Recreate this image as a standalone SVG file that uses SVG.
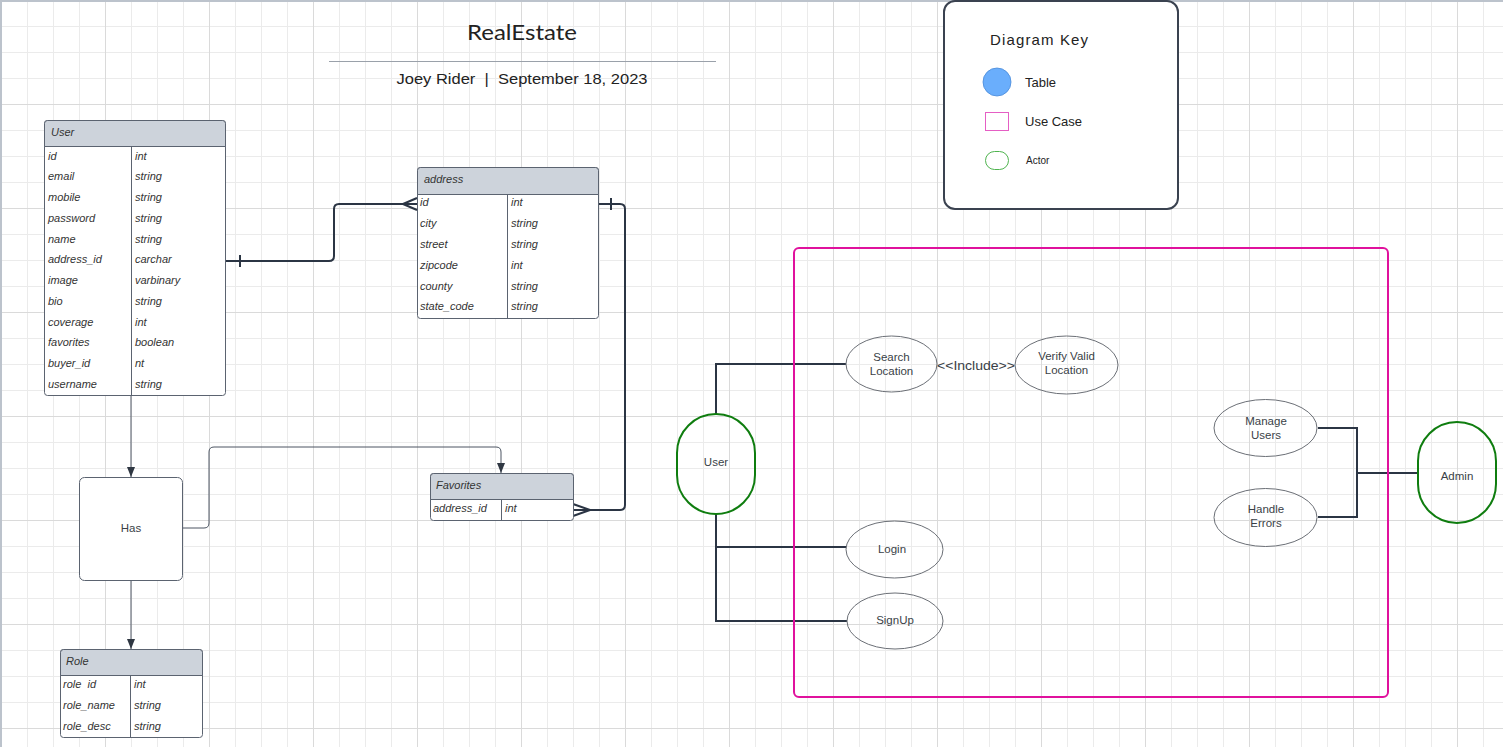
<svg xmlns="http://www.w3.org/2000/svg" width="1503" height="747" viewBox="0 0 1503 747">
<style>
.tbl{fill:#fff;stroke:#5b6370;stroke-width:1}
.hdr{fill:#cdd3db;stroke:#5b6370;stroke-width:1}
.div{stroke:#5b6370;stroke-width:1}
.t{font-family:"Liberation Sans",Arial,sans-serif;font-size:11px;font-style:italic;fill:#333}
.u{font-family:"Liberation Sans",Arial,sans-serif;font-size:11.5px;fill:#3a3f47;text-anchor:middle}
.uc{fill:none;stroke:#6b6f76;stroke-width:1}
.actor{fill:none;stroke:#0f7d0f;stroke-width:2}
.thin{fill:none;stroke:#4c5562;stroke-width:1}
.thick{fill:none;stroke:#2b3544;stroke-width:2}
.key{font-family:"Liberation Sans",Arial,sans-serif;fill:#222}
</style>
<defs>
<pattern id="grid" patternUnits="userSpaceOnUse" x="1" y="0" width="104" height="104">
<rect x="26" y="0" width="1" height="104" fill="#ebebeb"/>
<rect x="52" y="0" width="1" height="104" fill="#ebebeb"/>
<rect x="78" y="0" width="1" height="104" fill="#ebebeb"/>
<rect x="0" y="26" width="104" height="1" fill="#ebebeb"/>
<rect x="0" y="52" width="104" height="1" fill="#ebebeb"/>
<rect x="0" y="78" width="104" height="1" fill="#ebebeb"/>
<rect x="0" y="0" width="1" height="104" fill="#dadada"/>
<rect x="0" y="0" width="104" height="1" fill="#dadada"/>
</pattern>
<marker id="arr" viewBox="0 0 10 8" refX="10" refY="4" markerWidth="10" markerHeight="8" markerUnits="userSpaceOnUse" orient="auto">
<path d="M0,0 L10,4 L0,8 z" fill="#2f3742"/>
</marker>
</defs>
<rect width="1503" height="747" fill="#fff"/>
<rect width="1503" height="747" fill="url(#grid)"/>
<rect x="0" y="0" width="1503" height="2" fill="#bcc3cc"/>
<rect x="0" y="0" width="2" height="747" fill="#bcc3cc"/>

<g id="title">
<text x="522" y="40" font-family="Lato,'Liberation Sans',sans-serif" font-size="22" fill="#222" text-anchor="middle" textLength="110" lengthAdjust="spacingAndGlyphs">RealEstate</text>
<line x1="329" y1="61.5" x2="716" y2="61.5" stroke="#9aa1aa" stroke-width="1"/>
<text x="522" y="84" font-family="'Liberation Sans',sans-serif" font-size="15" fill="#222" text-anchor="middle" textLength="251" lengthAdjust="spacingAndGlyphs" style="white-space:pre">Joey Rider  |  September 18, 2023</text>
</g>

<g id="diagram-key">
<rect x="944" y="1" width="234" height="208" rx="11" fill="#fff" stroke="#3a4250" stroke-width="2"/>
<text class="key" x="990" y="45" font-size="15" textLength="98" lengthAdjust="spacing">Diagram Key</text>
<circle cx="997" cy="82" r="14" fill="#6aaefc" stroke="#4a8ad8" stroke-width="0.8"/>
<text class="key" x="1025" y="87" font-size="13" fill="#333">Table</text>
<rect x="985.5" y="112.5" width="23" height="18" fill="none" stroke="#e55ec4" stroke-width="1"/>
<text class="key" x="1025" y="126" font-size="13" fill="#333">Use Case</text>
<rect x="985.5" y="151.5" width="23" height="18" rx="9" fill="none" stroke="#4fb44f" stroke-width="1"/>
<text class="key" x="1026" y="164" font-size="10" fill="#333">Actor</text>
</g>

<g id="connectors">
<path class="thin" d="M131,396 L131,477" marker-end="url(#arr)"/>
<path class="thin" d="M131,580 L131,649" marker-end="url(#arr)"/>
<path class="thin" d="M183,528 L204,528 Q209,528 209,523 L209,452 Q209,447 214,447 L496,447 Q501,447 501,452 L501,473" marker-end="url(#arr)"/>
<path class="thick" d="M226,261 L329,261 Q334,261 334,256 L334,209 Q334,204 339,204 L417,204"/>
<path class="thick" d="M240,255 L240,267 M403,204 L417,198 M403,204 L417,210"/>
<path class="thick" d="M598,204 L620,204 Q625,204 625,209 L625,505 Q625,510 620,510 L573,510"/>
<path class="thick" d="M611,198 L611,210 M590,510 L573,504 M590,510 L573,516"/>
<path class="thick" d="M716,414 L716,364 L846,364"/>
<path class="thick" d="M716,514 L716,621 L847,621"/>
<path class="thick" d="M716,547 L846,547"/>
<path class="thick" d="M1318,428 L1357,428 L1357,517 L1318,517"/>
<path class="thick" d="M1357,473 L1418,473"/>
<text x="976" y="370" font-family="'Liberation Sans',Arial,sans-serif" font-size="13" fill="#3a3f47" text-anchor="middle" textLength="78" lengthAdjust="spacingAndGlyphs">&lt;&lt;Include&gt;&gt;</text>
</g>

<g id="table-user">
<rect class="tbl" x="44.5" y="120.5" width="181" height="275" rx="3"/>
<path class="hdr" d="M44.5,146.5 L44.5,123.5 Q44.5,120.5 47.5,120.5 L222.5,120.5 Q225.5,120.5 225.5,123.5 L225.5,146.5 Z"/>
<line class="div" x1="131.5" y1="146.5" x2="131.5" y2="395.5"/>
<text class="t" x="51" y="136">User</text>
<text class="t" x="48" y="160">id</text><text class="t" x="135" y="160">int</text>
<text class="t" x="48" y="180">email</text><text class="t" x="135" y="180">string</text>
<text class="t" x="48" y="201">mobile</text><text class="t" x="135" y="201">string</text>
<text class="t" x="48" y="222">password</text><text class="t" x="135" y="222">string</text>
<text class="t" x="48" y="243">name</text><text class="t" x="135" y="243">string</text>
<text class="t" x="48" y="263">address_id</text><text class="t" x="135" y="263">carchar</text>
<text class="t" x="48" y="284">image</text><text class="t" x="135" y="284">varbinary</text>
<text class="t" x="48" y="305">bio</text><text class="t" x="135" y="305">string</text>
<text class="t" x="48" y="326">coverage</text><text class="t" x="135" y="326">int</text>
<text class="t" x="48" y="346">favorites</text><text class="t" x="135" y="346">boolean</text>
<text class="t" x="48" y="367">buyer_id</text><text class="t" x="135" y="367">nt</text>
<text class="t" x="48" y="388">username</text><text class="t" x="135" y="388">string</text>
</g>

<g id="table-address">
<rect class="tbl" x="417.5" y="167.5" width="181" height="151" rx="3"/>
<path class="hdr" d="M417.5,194.5 L417.5,170.5 Q417.5,167.5 420.5,167.5 L595.5,167.5 Q598.5,167.5 598.5,170.5 L598.5,194.5 Z"/>
<line class="div" x1="507.5" y1="194.5" x2="507.5" y2="318.5"/>
<text class="t" x="424" y="183">address</text>
<text class="t" x="420" y="206">id</text><text class="t" x="511" y="206">int</text>
<text class="t" x="420" y="227">city</text><text class="t" x="511" y="227">string</text>
<text class="t" x="420" y="248">street</text><text class="t" x="511" y="248">string</text>
<text class="t" x="420" y="269">zipcode</text><text class="t" x="511" y="269">int</text>
<text class="t" x="420" y="290">county</text><text class="t" x="511" y="290">string</text>
<text class="t" x="420" y="310">state_code</text><text class="t" x="511" y="310">string</text>
</g>

<g id="table-favorites">
<rect class="tbl" x="430.5" y="473.5" width="143" height="47" rx="3"/>
<path class="hdr" d="M430.5,499.5 L430.5,476.5 Q430.5,473.5 433.5,473.5 L570.5,473.5 Q573.5,473.5 573.5,476.5 L573.5,499.5 Z"/>
<line class="div" x1="501.5" y1="499.5" x2="501.5" y2="520.5"/>
<text class="t" x="436" y="489">Favorites</text>
<text class="t" x="433" y="512">address_id</text><text class="t" x="505" y="512">int</text>
</g>

<g id="has">
<rect x="79.5" y="477.5" width="103" height="103" rx="5" fill="#fff" stroke="#5b6370" stroke-width="1"/>
<text x="131" y="532" font-family="'Liberation Sans',Arial,sans-serif" font-size="11.5" fill="#3a3f47" text-anchor="middle">Has</text>
</g>

<g id="table-role">
<rect class="tbl" x="60.5" y="649.5" width="142" height="88" rx="3"/>
<path class="hdr" d="M60.5,675.5 L60.5,652.5 Q60.5,649.5 63.5,649.5 L199.5,649.5 Q202.5,649.5 202.5,652.5 L202.5,675.5 Z"/>
<line class="div" x1="130.5" y1="675.5" x2="130.5" y2="737.5"/>
<text class="t" x="66" y="665">Role</text>
<text class="t" x="63" y="688" style="white-space:pre">role  id</text><text class="t" x="134" y="688">int</text>
<text class="t" x="63" y="709">role_name</text><text class="t" x="134" y="709">string</text>
<text class="t" x="63" y="730">role_desc</text><text class="t" x="134" y="730">string</text>
</g>

<g id="system-boundary">
<rect x="794" y="248" width="594" height="449" rx="5" fill="none" stroke="#e0119d" stroke-width="2"/>
</g>

<g id="actor-user">
<rect class="actor" x="677" y="414" width="78" height="100" rx="39"/>
<text class="u" x="716" y="466">User</text>
</g>
<g id="actor-admin">
<rect class="actor" x="1418" y="422" width="78" height="101" rx="39"/>
<text class="u" x="1457" y="480">Admin</text>
</g>

<g id="uc-search-location">
<ellipse class="uc" cx="891.5" cy="364" rx="45.5" ry="28"/>
<text class="u" x="891.5" y="361">Search</text>
<text class="u" x="891.5" y="375">Location</text>
</g>
<g id="uc-verify-valid-location">
<ellipse class="uc" cx="1066.5" cy="365" rx="51.5" ry="29"/>
<text class="u" x="1066.5" y="360">Verify Valid</text>
<text class="u" x="1066.5" y="374">Location</text>
</g>
<g id="uc-login">
<ellipse class="uc" cx="894.5" cy="549.5" rx="48.5" ry="28.5"/>
<text class="u" x="892" y="553">Login</text>
</g>
<g id="uc-signup">
<ellipse class="uc" cx="895" cy="621" rx="48" ry="28"/>
<text class="u" x="895" y="624">SignUp</text>
</g>
<g id="uc-manage-users">
<ellipse class="uc" cx="1265.5" cy="428" rx="51.5" ry="28.5"/>
<text class="u" x="1266" y="425">Manage</text>
<text class="u" x="1266" y="439">Users</text>
</g>
<g id="uc-handle-errors">
<ellipse class="uc" cx="1265.5" cy="517.5" rx="51.5" ry="29"/>
<text class="u" x="1266" y="513">Handle</text>
<text class="u" x="1266" y="527">Errors</text>
</g>
</svg>
